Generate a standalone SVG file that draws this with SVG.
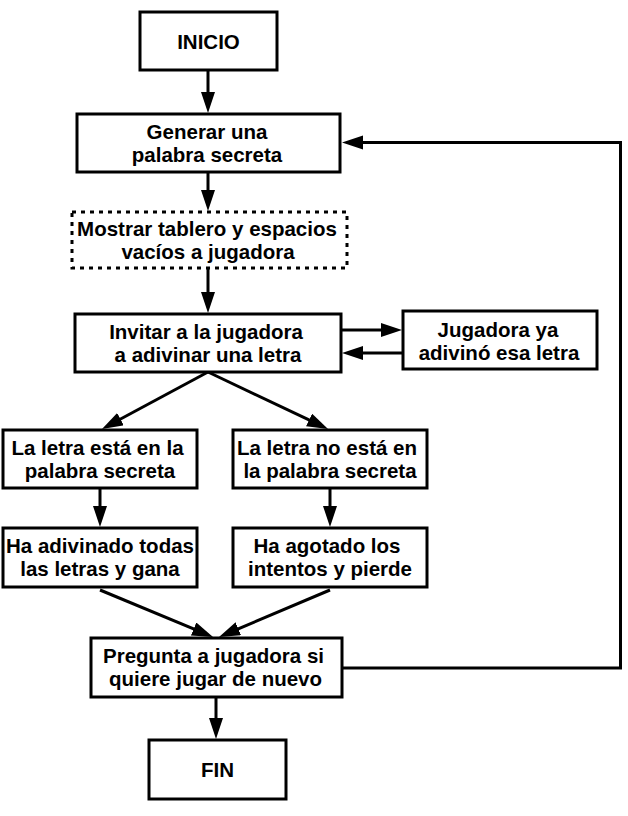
<svg xmlns="http://www.w3.org/2000/svg" width="628" height="816" viewBox="0 0 628 816">
<style>
.box{fill:#fff;stroke:#000;stroke-width:3}
.dot{fill:#fff;stroke:#000;stroke-width:3;stroke-dasharray:4 5}
.t{font-family:"Liberation Sans",Arial,sans-serif;font-weight:bold;font-size:20.5px;fill:#000;text-anchor:middle}
.c{fill:none;stroke:#000;stroke-width:3}
</style>
<defs>
<marker id="ah" markerUnits="userSpaceOnUse" markerWidth="24" markerHeight="16" refX="11" refY="7" orient="auto">
<path d="M0,0 L21,7 L0,14 z" fill="#000"/>
</marker>
</defs>
<rect width="628" height="816" fill="#fff"/>
<g id="connectors">
<line class="c" x1="208" y1="70" x2="208" y2="103" marker-end="url(#ah)"/>
<line class="c" x1="208" y1="172" x2="208" y2="201" marker-end="url(#ah)"/>
<line class="c" x1="208" y1="268" x2="208" y2="303" marker-end="url(#ah)"/>
<line class="c" x1="341" y1="330" x2="392" y2="330" marker-end="url(#ah)"/>
<line class="c" x1="403" y1="353" x2="352" y2="353" marker-end="url(#ah)"/>
<line class="c" x1="208" y1="372" x2="110.8" y2="424.3" marker-end="url(#ah)"/>
<line class="c" x1="208" y1="372" x2="319" y2="424.7" marker-end="url(#ah)"/>
<line class="c" x1="100" y1="488" x2="100" y2="517" marker-end="url(#ah)"/>
<line class="c" x1="330" y1="488" x2="330" y2="517" marker-end="url(#ah)"/>
<line class="c" x1="100" y1="590" x2="203.8" y2="633.2" marker-end="url(#ah)"/>
<line class="c" x1="330" y1="590" x2="228.2" y2="633.1" marker-end="url(#ah)"/>
<line class="c" x1="216" y1="697" x2="216" y2="729" marker-end="url(#ah)"/>
<polyline class="c" points="342,668 620.5,668 620.5,142.5 352,142.5" marker-end="url(#ah)"/>
</g>
<g id="inicio">
<rect class="box" x="140" y="12" width="137" height="58"/>
<text class="t" x="208.5" y="48.5">INICIO</text>
</g>
<g id="generar">
<rect class="box" x="77" y="114" width="263" height="58"/>
<text class="t" x="207" y="139">Generar una</text>
<text class="t" x="207" y="161.5">palabra secreta</text>
</g>
<g id="mostrar">
<rect class="dot" x="72" y="212" width="275" height="56"/>
<text class="t" x="207" y="236">Mostrar tablero y espacios</text>
<text class="t" x="208" y="258.5">vacíos a jugadora</text>
</g>
<g id="invitar">
<rect class="box" x="75" y="314" width="266" height="58"/>
<text class="t" x="206" y="339">Invitar a la jugadora</text>
<text class="t" x="208" y="362">a adivinar una letra</text>
</g>
<g id="yaadivino">
<rect class="box" x="403" y="311" width="194" height="58"/>
<text class="t" x="498" y="337">Jugadora ya</text>
<text class="t" x="499" y="360">adivinó esa letra</text>
</g>
<g id="esta">
<rect class="box" x="3" y="430" width="194" height="58"/>
<text class="t" x="97.5" y="455">La letra está en la</text>
<text class="t" x="100" y="477.5">palabra secreta</text>
</g>
<g id="noesta">
<rect class="box" x="233" y="430" width="194" height="58"/>
<text class="t" x="327" y="455">La letra no está en</text>
<text class="t" x="330" y="477.5">la palabra secreta</text>
</g>
<g id="gana">
<rect class="box" x="3" y="528" width="194" height="59"/>
<text class="t" x="100" y="553">Ha adivinado todas</text>
<text class="t" x="100" y="576">las letras y gana</text>
</g>
<g id="pierde">
<rect class="box" x="233" y="528" width="194" height="59"/>
<text class="t" x="327" y="553">Ha agotado los</text>
<text class="t" x="330" y="576">intentos y pierde</text>
</g>
<g id="pregunta">
<rect class="box" x="91" y="638" width="251" height="59"/>
<text class="t" x="213.5" y="663">Pregunta a jugadora si</text>
<text class="t" x="215.5" y="686">quiere jugar de nuevo</text>
</g>
<g id="fin">
<rect class="box" x="149" y="740" width="137" height="59"/>
<text class="t" x="217.5" y="776.5">FIN</text>
</g>
</svg>
